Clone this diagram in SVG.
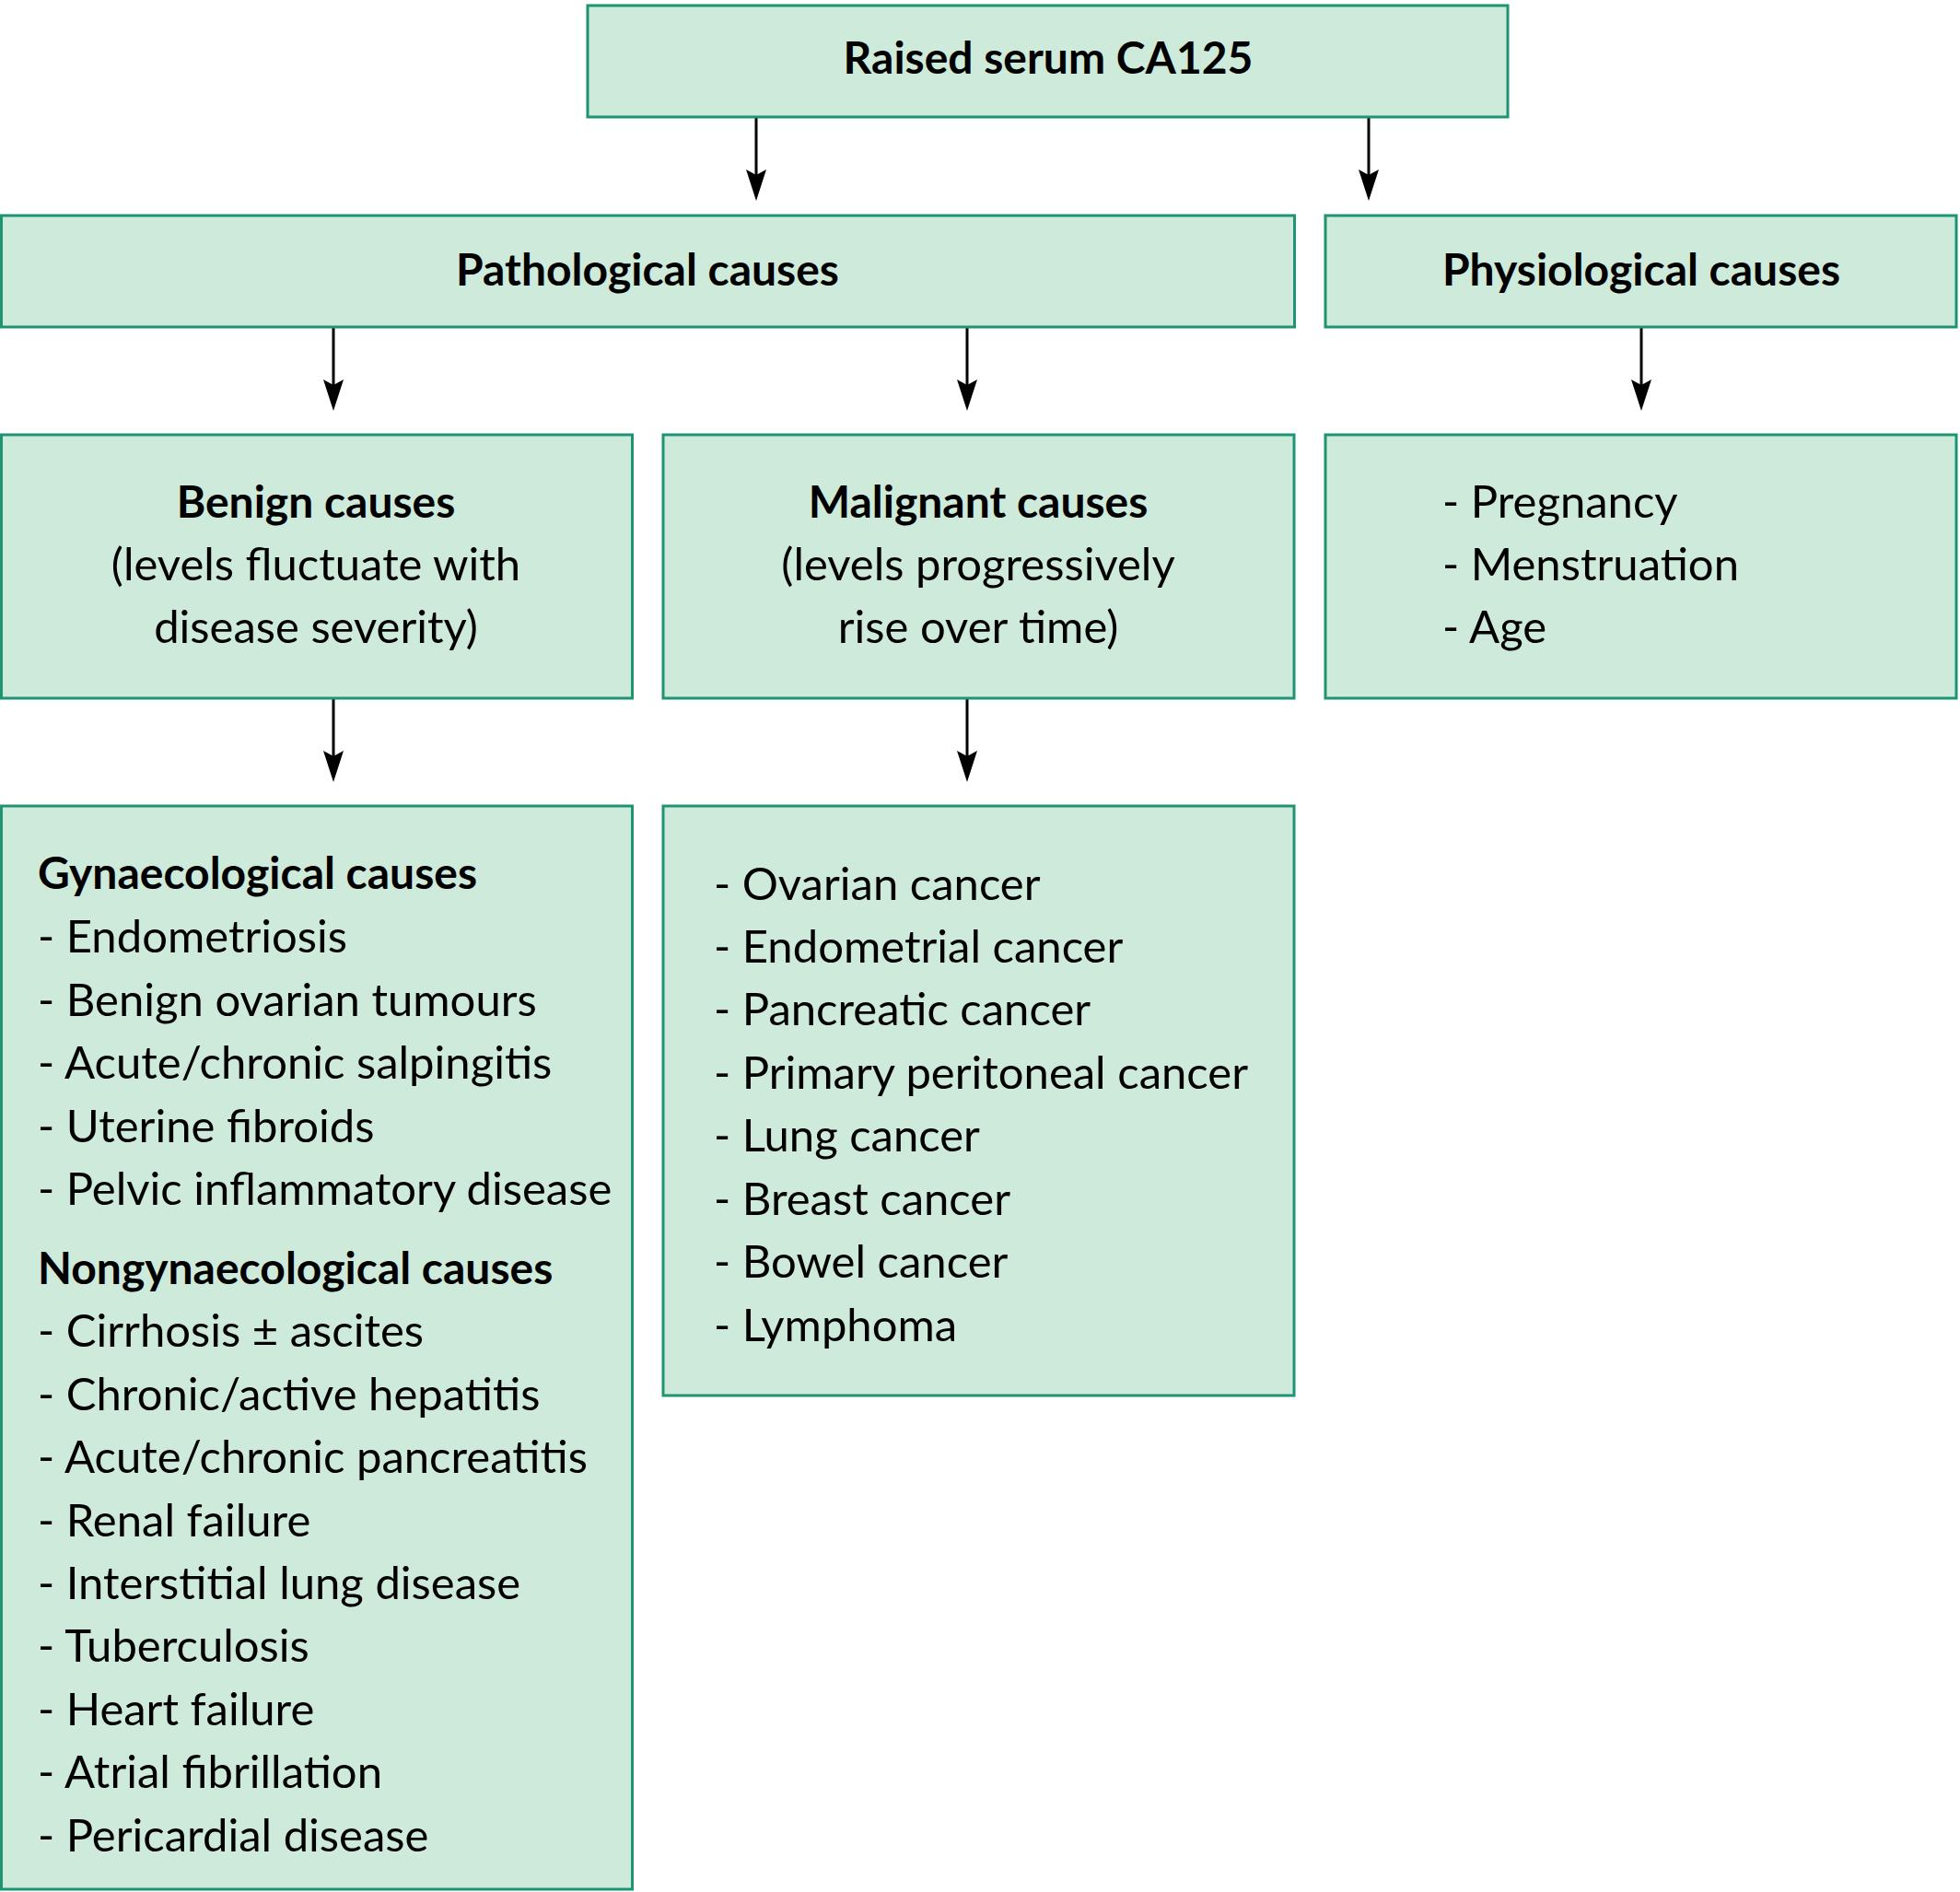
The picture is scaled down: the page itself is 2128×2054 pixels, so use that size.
<svg xmlns="http://www.w3.org/2000/svg" width="2128" height="2054" viewBox="0 0 2128 2054">
<style>
.box{fill:#cdeada;stroke:#1f9473;stroke-width:3}
.t{font-family:Lato,"Liberation Sans",sans-serif;font-size:49px;fill:#000}
.b{font-weight:bold;font-size:48px}
.c{text-anchor:middle}
.ln{stroke:#000;stroke-width:3;fill:none}
</style>
<rect width="2128" height="2054" fill="#fff"/>
<g id="connectors">
<path class="ln" d="M821,128 V200"/><path d="M810,184 L821,190 L832,184 L821,218 Z"/>
<path class="ln" d="M1486,128 V200"/><path d="M1475,184 L1486,190 L1497,184 L1486,218 Z"/>
<path class="ln" d="M362,356 V428"/><path d="M351,412 L362,418 L373,412 L362,446 Z"/>
<path class="ln" d="M1050,356 V428"/><path d="M1039,412 L1050,418 L1061,412 L1050,446 Z"/>
<path class="ln" d="M1782,356 V428"/><path d="M1771,412 L1782,418 L1793,412 L1782,446 Z"/>
<path class="ln" d="M362,759 V831"/><path d="M351,815 L362,821 L373,815 L362,849 Z"/>
<path class="ln" d="M1050,759 V831"/><path d="M1039,815 L1050,821 L1061,815 L1050,849 Z"/>
</g>
<g id="root">
<rect class="box" x="638" y="6" width="999" height="121"/>
<text class="t b c" x="1138" y="80">Raised serum CA125</text>
</g>
<g id="pathological">
<rect class="box" x="1.5" y="234" width="1404" height="121"/>
<text class="t b c" x="703" y="310">Pathological causes</text>
</g>
<g id="physiological">
<rect class="box" x="1439" y="234" width="685" height="121"/>
<text class="t b c" x="1782" y="310">Physiological causes</text>
</g>
<g id="benign">
<rect class="box" x="1.5" y="472" width="685" height="286"/>
<text class="t b c" x="343" y="562">Benign causes</text>
<text class="t c" x="343" y="630">(levels fluctuate with</text>
<text class="t c" x="343" y="698">disease severity)</text>
</g>
<g id="malignant">
<rect class="box" x="720" y="472" width="685" height="286"/>
<text class="t b c" x="1062" y="562">Malignant causes</text>
<text class="t c" x="1062" y="630">(levels progressively</text>
<text class="t c" x="1062" y="698">rise over time)</text>
</g>
<g id="physiological-list">
<rect class="box" x="1439" y="472" width="685" height="286"/>
<text class="t" x="1566" y="562">- Pregnancy</text>
<text class="t" x="1566" y="630">- Menstruation</text>
<text class="t" x="1566" y="698">- Age</text>
</g>
<g id="benign-list">
<rect class="box" x="1.5" y="875" width="685" height="1176"/>
<text class="t b" x="41" y="965">Gynaecological causes</text>
<text class="t" x="41" y="1034">- Endometriosis</text>
<text class="t" x="41" y="1103">- Benign ovarian tumours</text>
<text class="t" x="41" y="1171">- Acute/chronic salpingitis</text>
<text class="t" x="41" y="1240">- Uterine fibroids</text>
<text class="t" x="41" y="1308">- Pelvic inflammatory disease</text>
<text class="t b" x="41" y="1394">Nongynaecological causes</text>
<text class="t" x="41" y="1462">- Cirrhosis ± ascites</text>
<text class="t" x="41" y="1531">- Chronic/active hepatitis</text>
<text class="t" x="41" y="1599">- Acute/chronic pancreatitis</text>
<text class="t" x="41" y="1668">- Renal failure</text>
<text class="t" x="41" y="1736">- Interstitial lung disease</text>
<text class="t" x="41" y="1804">- Tuberculosis</text>
<text class="t" x="41" y="1873">- Heart failure</text>
<text class="t" x="41" y="1941">- Atrial fibrillation</text>
<text class="t" x="41" y="2010">- Pericardial disease</text>
</g>
<g id="malignant-list">
<rect class="box" x="720" y="875" width="685" height="640"/>
<text class="t" x="775" y="977">- Ovarian cancer</text>
<text class="t" x="775" y="1045">- Endometrial cancer</text>
<text class="t" x="775" y="1113">- Pancreatic cancer</text>
<text class="t" x="775" y="1182">- Primary peritoneal cancer</text>
<text class="t" x="775" y="1250">- Lung cancer</text>
<text class="t" x="775" y="1319">- Breast cancer</text>
<text class="t" x="775" y="1387">- Bowel cancer</text>
<text class="t" x="775" y="1456">- Lymphoma</text>
</g>
</svg>
